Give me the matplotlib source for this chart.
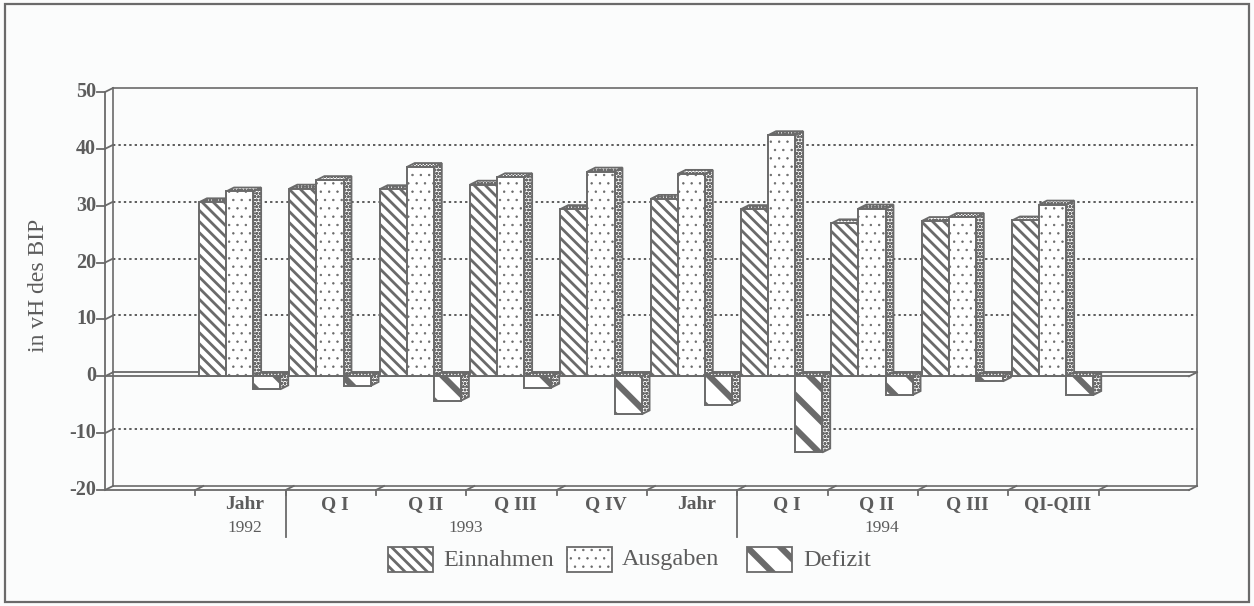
import matplotlib
matplotlib.use('Agg')
import matplotlib.pyplot as plt
import matplotlib.patches as patches

plt.rcParams['font.family'] = ['Liberation Serif', 'DejaVu Serif']
plt.rcParams['hatch.linewidth'] = 1.0

# Werte in vH des BIP
kategorien = ['Jahr', 'Q I', 'Q II', 'Q III', 'Q IV', 'Jahr', 'Q I', 'Q II', 'Q III', 'QI-QIII']
einnahmen = [30.6, 33.0, 32.9, 33.7, 29.4, 31.2, 29.4, 26.9, 27.3, 27.4]
ausgaben = [32.5, 34.5, 36.8, 35.0, 36.0, 35.6, 42.4, 29.5, 28.0, 30.2]
defizit = [-2.3, -1.7, -4.3, -2.0, -6.7, -5.0, -13.4, -3.3, -0.9, -3.3]
jahre = ['1992', '1993', '1994']
jahr_pos = [1.5, 3.95, 8.55]
trenner = [2, 7]
y_ticks = [50, 40, 30, 20, 10, 0, -10, -20]
serien = ['Einnahmen', 'Ausgaben', 'Defizit']

W, H = 1254, 606
GRAU = '#6a6a6a'
TXT = '#5c5c5c'
BG = '#fbfcfc'
dx, dy = 0.088, 0.7          # Tiefe der Pseudo-3D-Darstellung (Daten-Einheiten)
bw = 0.3                     # Balkenbreite je Slot
muster = ['\\\\\\', '..', '\\']
muster_lw = [2.0, 0.5, 4.5]
seiten = 'ooooo'

fig = plt.figure(figsize=(W / 100, H / 100), dpi=100, facecolor=BG)
ax = fig.add_axes([113 / W, 1 - 486 / H, (1197 - 113) / W, (486 - 88) / H])
ax.set_facecolor(BG)
ax.set_xlim(0, 12)
ax.set_ylim(-20, 50)
for s in ax.spines.values():
    s.set_color(GRAU)
    s.set_linewidth(1.2)
ax.set_xticks([])
ax.set_yticks([40, 30, 20, 10, -10])
ax.tick_params(axis='y', length=0, labelleft=False)
ax.yaxis.grid(True, color='#505050', linestyle=(0, (1.3, 1.7)), linewidth=1.3)
ax.set_axisbelow(True)

kw = dict(clip_on=False, color=GRAU, lw=1.3)
# Boden bei 0 und -20, vordere y-Achse
for lvl in [0, -20]:
    ax.plot([-dx, 12 - dx], [lvl - dy, lvl - dy], zorder=2, **kw)
    ax.plot([12 - dx, 12], [lvl - dy, lvl], zorder=2, **kw)
ax.plot([0, 12], [0, 0], zorder=2, **kw)
ax.plot([-dx, -dx], [-20 - dy, 50 - dy], zorder=2, **kw)
for v in y_ticks:
    ax.plot([-dx - 0.09, -dx], [v - dy, v - dy], **kw)
    ax.plot([-dx, 0], [v - dy, v], **kw)
    ax.text(-dx - 0.1, v - dy, str(v), ha='right', va='center', fontsize=14.5,
            fontweight='bold', color=TXT, clip_on=False)

fig.text(38 / W, 1 - 285 / H, 'in vH des BIP', rotation=90, ha='center', va='center',
         fontsize=17, color=TXT)


def hatch_lw(p, lw):
    if hasattr(p, 'set_hatch_linewidth'):
        p.set_hatch_linewidth(lw)


def balken(x, v, k, z):
    xl, xr = x, x + bw
    b = ax.bar(xl, v, width=bw, bottom=-dy, align='edge', facecolor='white',
               edgecolor=GRAU, hatch=muster[k], linewidth=1.4, zorder=z + 0.2)
    hatch_lw(b.patches[0], muster_lw[k])
    top = max(v, 0)
    seite = patches.Polygon([(xr, -dy), (xr + dx, 0), (xr + dx, v), (xr, v - dy)],
                            closed=True, facecolor='white', edgecolor=GRAU,
                            hatch=seiten, lw=1.3, zorder=z)
    ax.add_patch(seite)
    oben = patches.Polygon([(xl, top - dy), (xl + dx, top), (xr + dx, top), (xr, top - dy)],
                           closed=True, facecolor='white', edgecolor=GRAU,
                           hatch=seiten, lw=1.3, zorder=z + 0.1)
    ax.add_patch(oben)
    return b


z = 3
for i in range(len(kategorien)):
    slot = i + 1
    for k, werte in enumerate([einnahmen, ausgaben, defizit]):
        x = slot + 0.04 + k * bw - dx
        balken(x, werte[i], k, z)
        z += 1

# Kategorie-Beschriftung
for i, lab in enumerate(kategorien):
    ax.text(i + 1.5 - dx / 2, -23.3, lab, ha='center', va='center', fontsize=14,
            fontweight='bold', color=TXT, clip_on=False)
for lab, xp in zip(jahre, jahr_pos):
    ax.text(xp - dx / 2, -27.3, lab, ha='center', va='center', fontsize=12.5,
            color=TXT, clip_on=False)
for t in trenner:
    ax.plot([t - dx, t - dx], [-20 - dy, -29.0], **kw)
for t in range(1, 12):
    ax.plot([t - dx, t], [-20 - dy, -20], **kw)
    ax.plot([t - dx, t - dx], [-20 - dy, -20 - dy - 0.9], **kw)

# Legende
leg_x = [388, 567, 747]
txt_x = [443, 622, 803]
for k, name in enumerate(serien):
    r = patches.Rectangle((leg_x[k] / W, 1 - 572 / H), 45 / W, 25 / H,
                          transform=fig.transFigure, facecolor='white', edgecolor=GRAU,
                          hatch=muster[k], lw=1.3)
    hatch_lw(r, muster_lw[k])
    fig.add_artist(r)
    fig.text(txt_x[k] / W, 1 - 560 / H, name, ha='left', va='center', fontsize=17.5, color=TXT)

# Rahmen
fig.add_artist(patches.Rectangle((5 / W, 4 / H), 1244 / W, 598 / H, transform=fig.transFigure,
                                 fill=False, edgecolor=GRAU, lw=1.6))

fig.savefig('out.png', dpi=100, facecolor=BG)
